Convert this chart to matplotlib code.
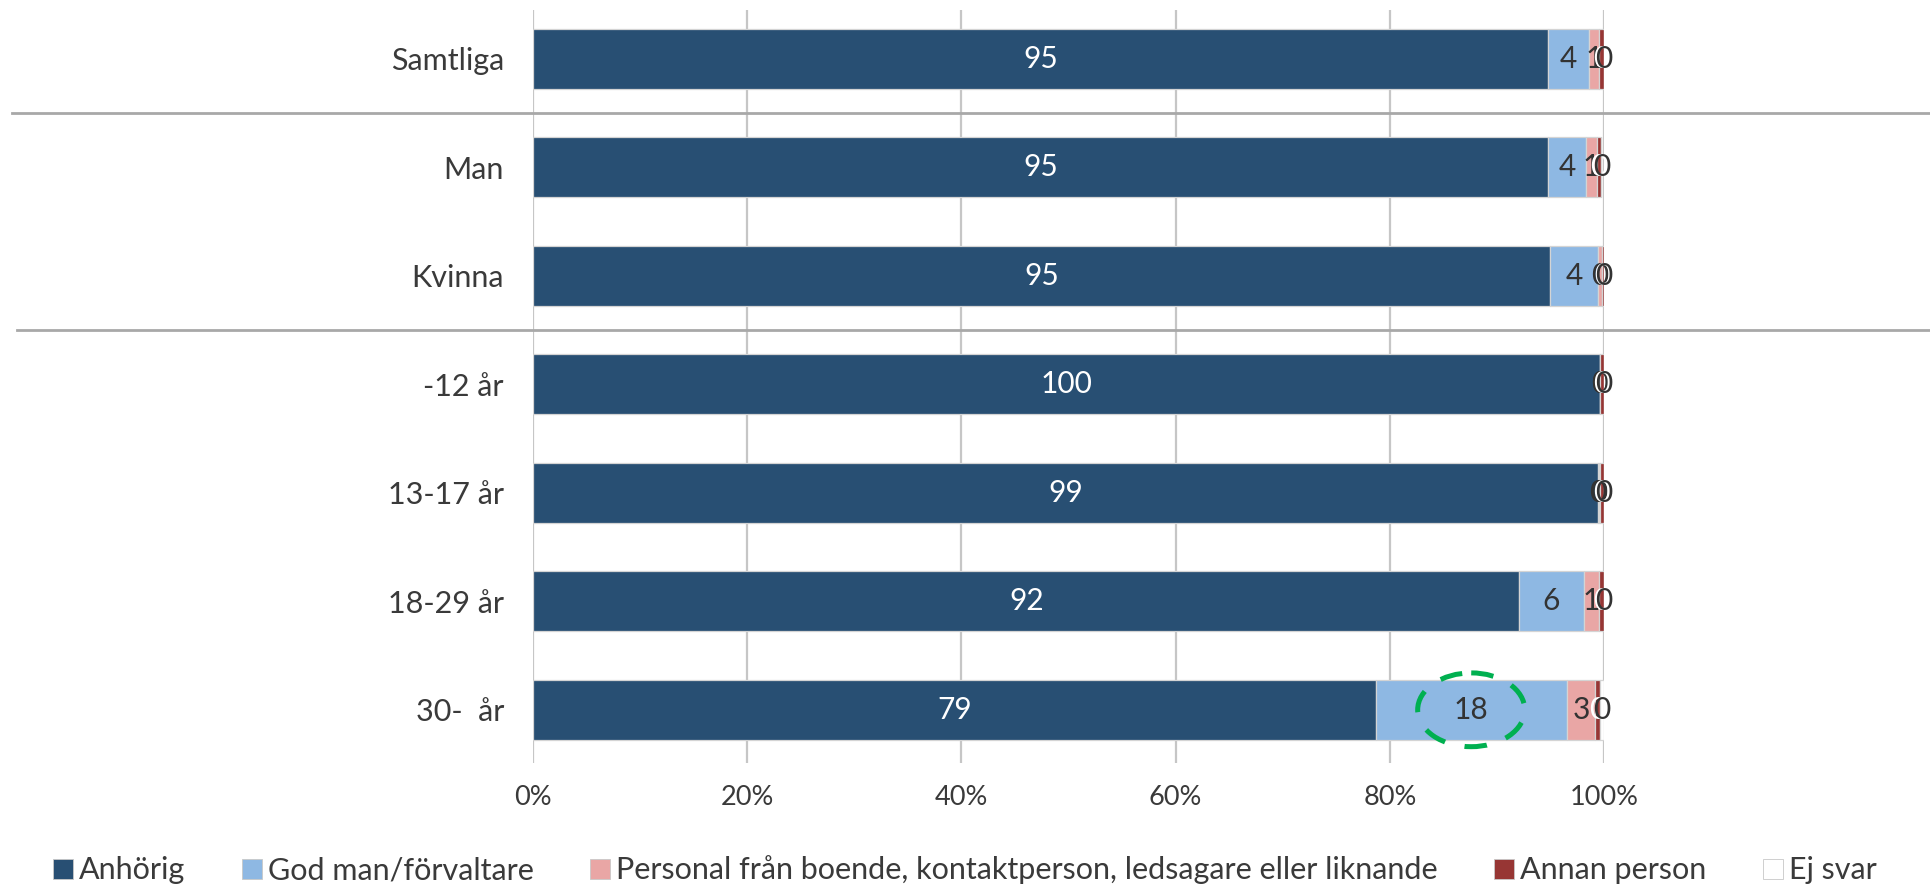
import numpy as np
import matplotlib
matplotlib.use("Agg")
import matplotlib.pyplot as plt
from matplotlib.patches import Patch, Ellipse
from matplotlib.transforms import blended_transform_factory

plt.rcParams['font.family'] = ['Lato', 'DejaVu Sans']

# Data (percent)
groups = ["Samtliga", "Man", "Kvinna", "-12 år", "13-17 år", "18-29 år", "30-  år"]
series = ["Anhörig", "God man/förvaltare",
          "Personal från boende, kontaktperson, ledsagare eller liknande",
          "Annan person", "Ej svar"]
anhorig = [94.8, 94.8, 95.0, 99.6, 99.4, 92.1, 78.7]
god_man = [3.8, 3.5, 4.4, 0.0, 0.1, 6.0, 17.8]
personal = [0.9, 1.0, 0.4, 0.0, 0.1, 1.45, 2.7]
annan = [0.5, 0.45, 0.2, 0.4, 0.4, 0.45, 0.4]
ej_svar = [0.0, 0.0, 0.0, 0.0, 0.0, 0.0, 0.4]

values = [anhorig, god_man, personal, annan, ej_svar]
colors = ["#284f73", "#8eb8e3", "#e9a6a5", "#973634", "#ffffff"]
label_colors = ["white", "#333333", "#333333", "white", "#333333"]
text_color = "#3a3a3a"

fig = plt.figure(figsize=(19.3, 8.85), dpi=100)
ax = fig.add_axes([0.2762, 0.1379, 0.5549, 0.8508])

y = np.arange(len(groups))
left = np.zeros(len(groups))
for vals, col, lc in zip(values, colors, label_colors):
    vals = np.array(vals)
    ax.barh(y, vals, left=left, height=0.555, color=col,
            edgecolor="#d4d4d4", linewidth=0.9, zorder=2)
    for yi, (l, v) in enumerate(zip(left, vals)):
        ax.text(l + v / 2, yi, f"{v:.0f}", ha="center", va="center",
                color=lc, fontsize=21.5, zorder=4)
    left = left + vals

ax.set_xlim(0, 100)
ax.set_ylim(len(groups) - 0.51, -0.45)
ax.set_xticks(np.arange(0, 101, 20))
ax.set_xticklabels([f"{t}%" for t in range(0, 101, 20)])
ax.set_yticks(y)
ax.set_yticklabels(groups)
ax.tick_params(axis="x", length=0, pad=16, labelsize=19.5, labelcolor=text_color)
ax.tick_params(axis="y", length=0, pad=21, labelsize=22, labelcolor=text_color)
ax.grid(axis="x", color="#c6c6c6", linewidth=1.6, zorder=0)
ax.set_axisbelow(True)
for s in ax.spines.values():
    s.set_visible(False)

# separators between group blocks
tr = blended_transform_factory(fig.transFigure, ax.transData)
ax.plot([0.006, 1.0], [0.5, 0.5], color="#a8a8a8", lw=2, transform=tr, clip_on=False)
ax.plot([0.009, 1.0], [2.5, 2.5], color="#a8a8a8", lw=2, transform=tr, clip_on=False)

# highlight around the 18 in the last row
i = len(groups) - 1
ax.add_patch(Ellipse((anhorig[i] + god_man[i] / 2, i), 10.0, 0.68, fill=False,
                     edgecolor="#00b050", lw=3.6, linestyle=(0, (4.5, 4)), zorder=5))

handles = [Patch(facecolor=c, edgecolor="#c8c8c8", linewidth=0.6) for c in colors]
fig.legend(handles, series, loc="center", bbox_to_anchor=(0.5, 0.017), ncol=5,
           frameon=False, fontsize=22, handlelength=0.65, handleheight=0.65,
           handletextpad=0.2, columnspacing=1.85, borderpad=0,
           labelcolor=text_color)

fig.savefig("out.png", dpi=100)
